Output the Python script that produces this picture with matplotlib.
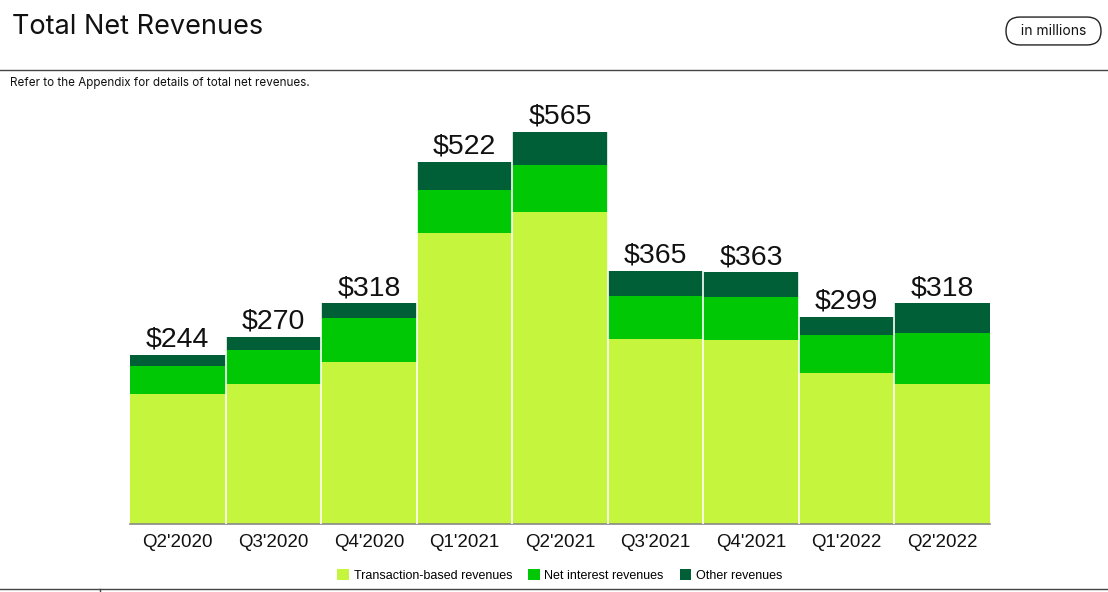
import numpy as np
import matplotlib.pyplot as plt

quarters = ["Q2'2020", "Q3'2020", "Q4'2020", "Q1'2021", "Q2'2021",
            "Q3'2021", "Q4'2021", "Q1'2022", "Q2'2022"]
transaction = [187, 202, 234, 420, 450, 267, 265, 217, 202]
net_interest = [40, 49, 63, 62, 68, 62, 62, 55, 73]
other = [17, 19, 21, 40, 47, 36, 36, 27, 43]
totals = [244, 270, 318, 522, 565, 365, 363, 299, 318]

c_trans = '#c5f53c'
c_nii = '#00c805'
c_other = '#005f37'

fig = plt.figure(figsize=(11.08, 5.92), dpi=100)
ax = fig.add_axes([130/1108, 68/592, 860/1108, 424/592])

x = np.arange(len(quarters))
t = np.array(transaction)
n = np.array(net_interest)
o = np.array(other)

ax.bar(x, t, width=1.0, color=c_trans, linewidth=0, label='Transaction-based revenues')
ax.bar(x, n, width=1.0, bottom=t, color=c_nii, linewidth=0, label='Net interest revenues')
ax.bar(x, o, width=1.0, bottom=t + n, color=c_other, linewidth=0, label='Other revenues')
# thin white separators between bars
for xi in x[1:]:
    ax.axvline(xi - 0.5, color='white', lw=1.2, zorder=3)

for xi, tot in zip(x, totals):
    ax.text(xi, tot + 3, f'${tot}', ha='center', va='bottom', fontsize=20.5,
            family='Liberation Sans', color='#111111')

ax.set_xlim(-0.5, len(quarters) - 0.5)
ax.set_ylim(0, 611)
ax.set_yticks([])
ax.set_xticks(x)
ax.set_xticklabels(quarters, fontsize=13.5, family='Liberation Sans', color='#111111')
ax.tick_params(axis='x', length=0, pad=7)
for s in ['top', 'right', 'left']:
    ax.spines[s].set_visible(False)
ax.spines['bottom'].set_color('#888888')
ax.spines['bottom'].set_linewidth(1.2)

leg = ax.legend(loc='upper center', bbox_to_anchor=(430/860, -0.08), ncol=3, frameon=False,
                prop={'family': 'Liberation Sans', 'size': 9}, handlelength=0.9, handleheight=0.9,
                handletextpad=0.4, columnspacing=1.3)

# header
fig.text(12/1108, 1 - 27/592, 'Total Net Revenues', fontsize=19.5, family='Inter',
         va='center', ha='left', color='#111111')
fig.text(10/1108, 1 - 83/592, 'Refer to the Appendix for details of total net revenues.',
         fontsize=8.4, family='Inter', va='center', ha='left', color='#111111')
fig.add_artist(plt.Line2D([0, 1], [1 - 70/592, 1 - 70/592], color='#444444', lw=1))
fig.text(1053.5/1108, 1 - 31/592, '  in millions  ', fontsize=10, family='Inter',
         va='center', ha='center', color='#111111',
         bbox=dict(boxstyle='round,pad=0.5,rounding_size=1.0', facecolor='white',
                   edgecolor='#222222', lw=1))

# footer line
fig.add_artist(plt.Line2D([0, 1], [1 - 589/592, 1 - 589/592], color='#444444', lw=1))
fig.add_artist(plt.Line2D([100/1108, 100/1108], [0, 1 - 589/592], color='#444444', lw=1))

fig.savefig('out.png', dpi=100)
